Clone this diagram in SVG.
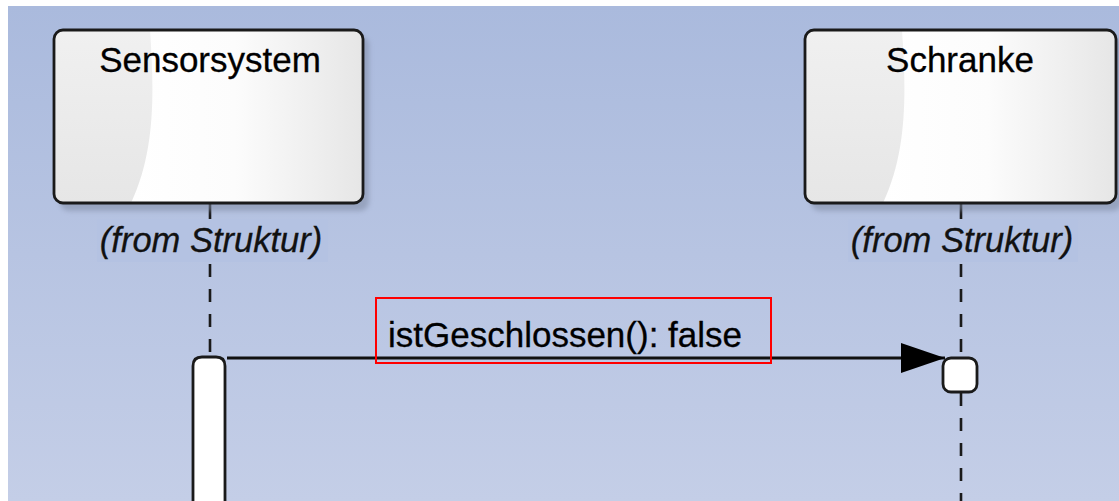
<svg xmlns="http://www.w3.org/2000/svg" width="1119" height="501" viewBox="0 0 1119 501">
<defs>
<linearGradient id="bg" x1="0" y1="0" x2="0" y2="1">
<stop offset="0" stop-color="#aabadd"/>
<stop offset="1" stop-color="#c4cee7"/>
</linearGradient>
<linearGradient id="boxbase" x1="0" y1="0" x2="0" y2="1">
<stop offset="0" stop-color="#f0f0f0"/>
<stop offset="1" stop-color="#e6e6e6"/>
</linearGradient>
<linearGradient id="gloss" x1="0" y1="0" x2="1" y2="0">
<stop offset="0" stop-color="#ffffff"/>
<stop offset="0.45" stop-color="#fcfcfc"/>
<stop offset="1" stop-color="#e6e6e6"/>
</linearGradient>
<filter id="shadow" x="-10%" y="-10%" width="130%" height="130%">
<feGaussianBlur stdDeviation="2.5"/>
</filter>
<clipPath id="clipL"><rect x="54" y="30" width="309" height="173" rx="9"/></clipPath>
<clipPath id="clipR"><rect x="805" y="30" width="311" height="173" rx="9"/></clipPath>
<marker id="arrow" markerWidth="46" markerHeight="32" refX="45" refY="16" orient="auto" markerUnits="userSpaceOnUse">
<path d="M1,1 L45,16 L1,31 Z" fill="#000"/>
</marker>
</defs>
<style>
.title{font-family:"Liberation Sans",Arial,sans-serif;font-size:35px;fill:#000;text-anchor:middle;stroke:#000;stroke-width:0.3}
.from{font-family:"Liberation Sans",Arial,sans-serif;font-size:34.5px;font-style:italic;fill:#111;text-anchor:middle;stroke:#111;stroke-width:0.3}
.msg{font-family:"Liberation Sans",Arial,sans-serif;font-size:35px;fill:#000;stroke:#000;stroke-width:0.3}
.frame{fill:none;stroke:#1a1a1a;stroke-width:2.8}
.life{stroke:#1a1a1a;stroke-width:2.6;fill:none}
.dash{stroke-dasharray:13 12}
.hl{fill:#b4c2e2}
.act{fill:#ffffff;stroke:#1a1a1a;stroke-width:2.8}
.shadow{fill:#7f8aa3;opacity:0.55;filter:url(#shadow)}
</style>
<rect x="0" y="0" width="1119" height="501" fill="#ffffff"/>
<rect x="8" y="6" width="1111" height="495" fill="url(#bg)"/>

<g id="connectors">
<line class="life" x1="210" y1="203" x2="210" y2="219"/>
<line class="life dash" x1="210" y1="264" x2="210" y2="357"/>
<line class="life" x1="961" y1="203" x2="961" y2="219"/>
<line class="life dash" x1="961" y1="264" x2="961" y2="358"/>
<line class="life" x1="961" y1="392" x2="961" y2="406"/>
<line class="life dash" x1="961" y1="418" x2="961" y2="501"/>
<line x1="227" y1="358" x2="945" y2="358" stroke="#111" stroke-width="2.8" marker-end="url(#arrow)"/>
</g>

<g id="node-sensorsystem">
<rect class="shadow" x="60" y="36" width="309" height="175" rx="9"/>
<g clip-path="url(#clipL)">
<rect x="54" y="30" width="309" height="173" fill="url(#boxbase)"/>
<path d="M150,30 C154,90 156,150 131,203 L363,203 L363,30 Z" fill="url(#gloss)"/>
</g>
<rect class="frame" x="54" y="30" width="309" height="173" rx="9"/>
<text class="title" x="210" y="72">Sensorsystem</text>
<rect class="hl" x="97" y="219" width="231" height="43"/>
<text class="from" x="211" y="252">(from Struktur)</text>
</g>

<g id="node-schranke">
<rect class="shadow" x="811" y="36" width="311" height="175" rx="9"/>
<g clip-path="url(#clipR)">
<rect x="805" y="30" width="311" height="173" fill="url(#boxbase)"/>
<path d="M902,30 C906,90 908,150 883,203 L1116,203 L1116,30 Z" fill="url(#gloss)"/>
</g>
<rect class="frame" x="805" y="30" width="311" height="173" rx="9"/>
<text class="title" x="960" y="72">Schranke</text>
<rect class="hl" x="848" y="219" width="230" height="43"/>
<text class="from" x="962" y="252">(from Struktur)</text>
</g>

<g id="activation-sensorsystem">
<path class="act" d="M193,520 L193,366 Q193,357 202,357 L216,357 Q225,357 225,366 L225,520"/>
</g>
<g id="activation-schranke">
<rect class="act" x="943" y="358" width="34" height="34" rx="8"/>
</g>

<g id="message-label">
<text class="msg" x="388" y="347">istGeschlossen(): false</text>
<rect x="376" y="298" width="395" height="65" fill="none" stroke="#ff0000" stroke-width="2"/>
</g>
</svg>
